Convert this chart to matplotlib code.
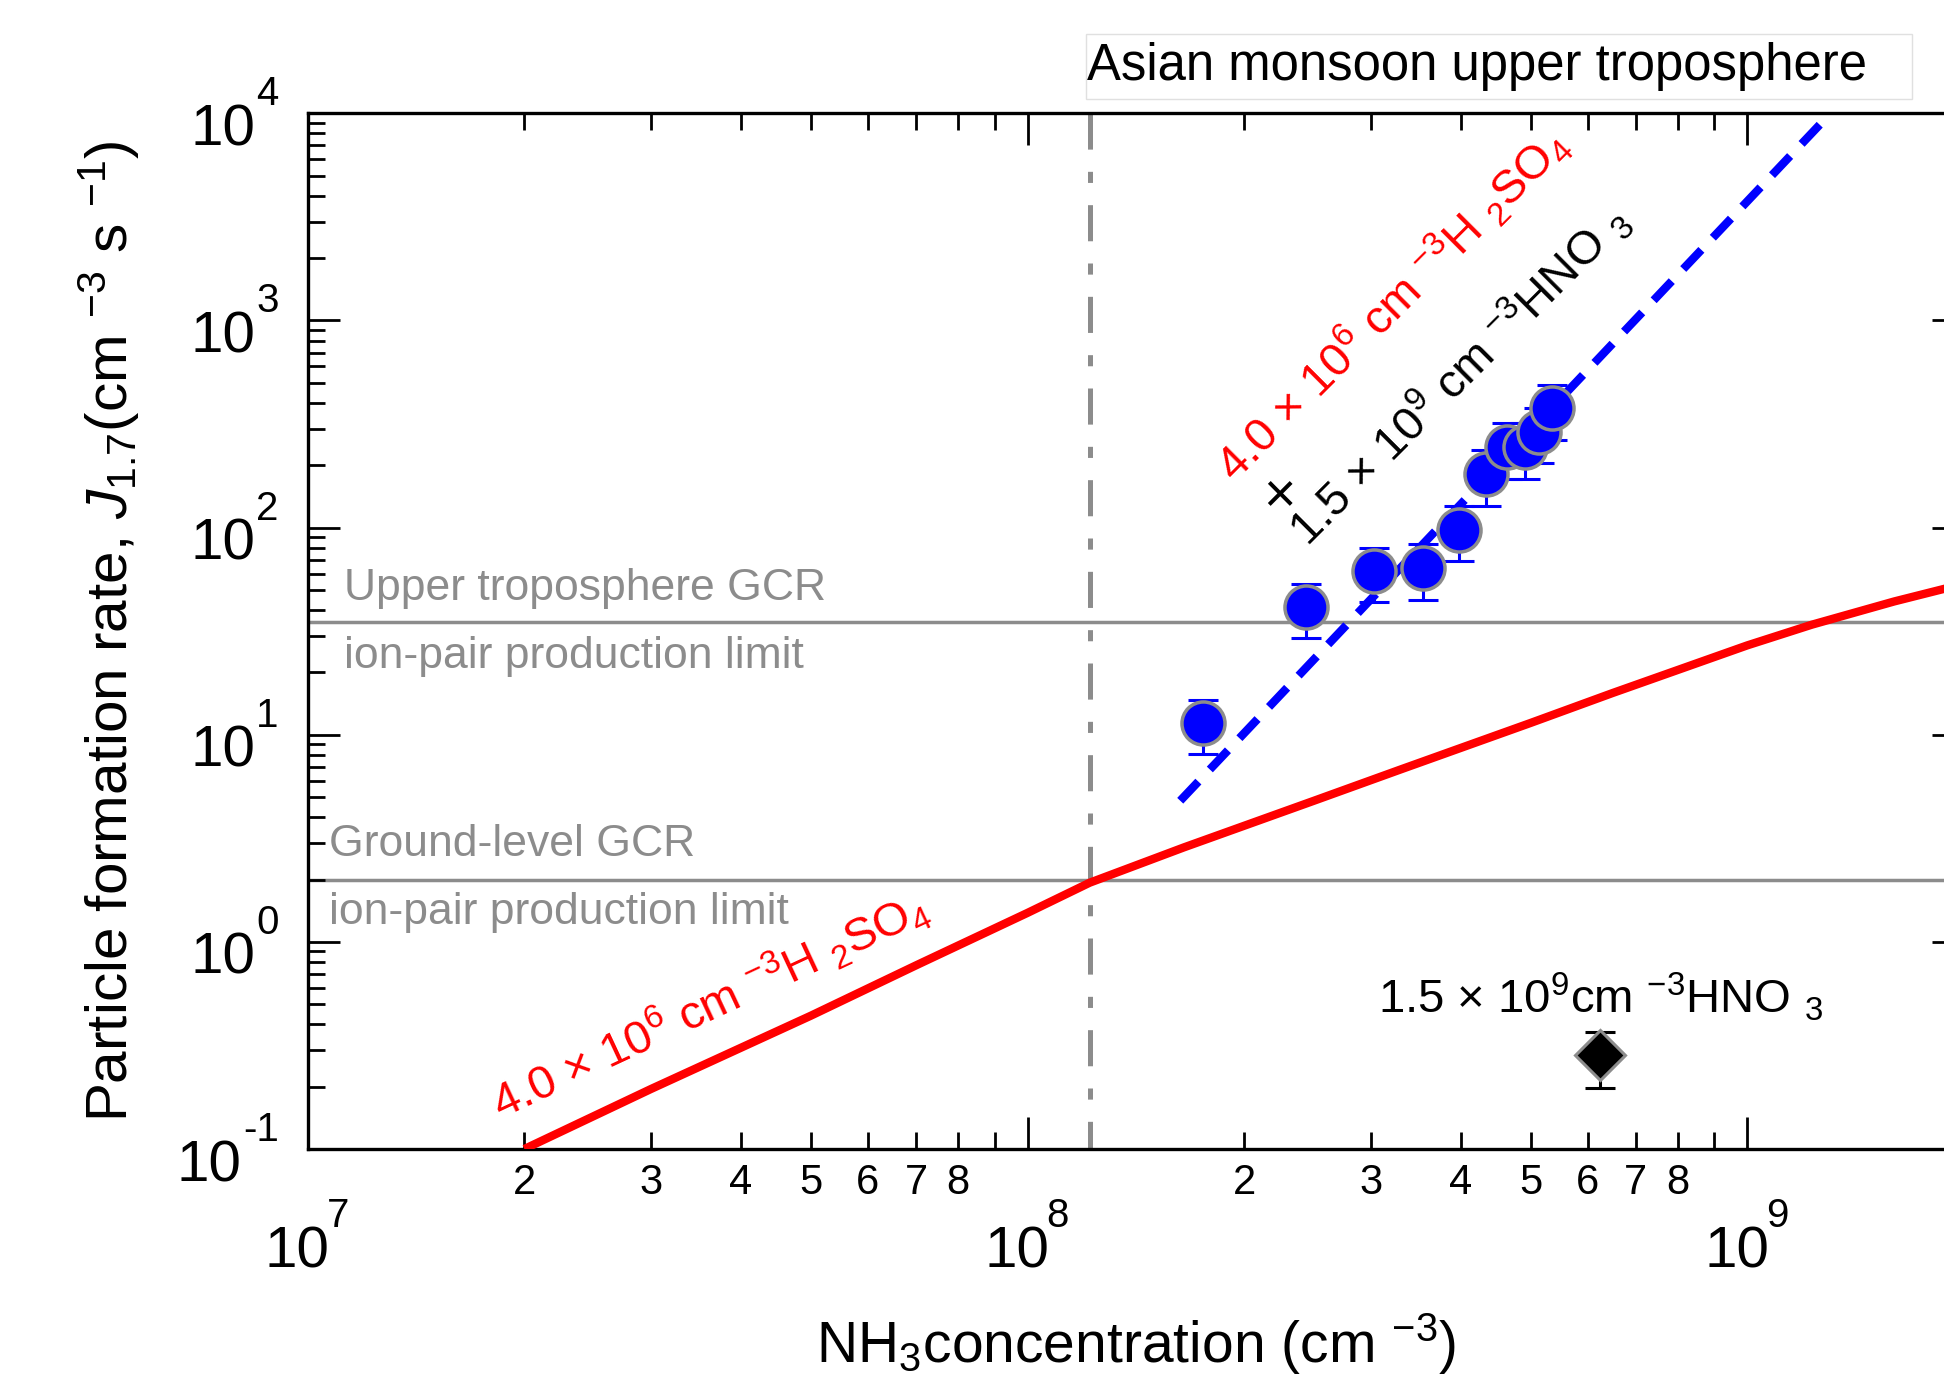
import matplotlib
matplotlib.use('Agg')
import matplotlib.pyplot as plt
import matplotlib.transforms as mtransforms
from matplotlib.ticker import FixedLocator, FixedFormatter, NullFormatter
from matplotlib.patches import Rectangle

plt.rcParams['font.family'] = ['Liberation Sans', 'DejaVu Sans']
plt.rcParams['mathtext.fontset'] = 'custom'
plt.rcParams['mathtext.rm'] = 'Liberation Sans'
plt.rcParams['mathtext.it'] = 'Liberation Sans:italic'
plt.rcParams['mathtext.bf'] = 'Liberation Sans:bold'
plt.rcParams['mathtext.sf'] = 'Liberation Sans'
plt.rcParams['mathtext.default'] = 'regular'
plt.rcParams['lines.scale_dashes'] = False

# ---------------- data ----------------
# CLOUD measurements, H2SO4 + HNO3 + NH3 (blue circles)
nh3_blue = [1.753e8, 2.44e8, 3.03e8, 3.54e8, 3.98e8, 4.34e8, 4.63e8, 4.91e8, 5.14e8, 5.36e8]
j_blue = [11.4, 41.3, 61.5, 64.1, 97.7, 182, 245, 245, 290, 376]
j_blue_err = [3.3, 12, 18, 19.5, 29, 55, 74, 74, 86, 112]

# HNO3 only (black diamond)
nh3_diamond = [6.25e8]
j_diamond = [0.283]
j_diamond_err = [0.085]

# H2SO4 + NH3 model curve (red)
nh3_red = [2.0e7, 3.0e7, 5.0e7, 7.0e7, 1.0e8, 1.22e8, 1.65e8, 2.5e8, 3.3e8,
           5.0e8, 6.5e8, 1.0e9, 1.23e9, 1.6e9, 2.0e9]
j_red = [0.100, 0.195, 0.44, 0.77, 1.38, 1.93, 2.86, 4.8, 6.8,
         11.4, 15.9, 27.0, 34.0, 44.0, 53.5]

# fit through blue points (blue dashed)
nh3_fit = [1.63e8, 1.305e9]
j_fit = [4.8, 1.0e4]

# reference levels
gcr_upper = 35.0
gcr_ground = 2.0
nh3_monsoon = 1.22e8

# ticks
x_major = [1e7, 1e8, 1e9]
x_major_exp = ['7', '8', '9']
x_minor = [m * 10.0 ** e for e in (7, 8) for m in range(2, 10)]
x_minor_labels = [str(m) if m <= 8 else '' for e in (7, 8) for m in range(2, 10)]
y_major = [1e-1, 1e0, 1e1, 1e2, 1e3, 1e4]
y_major_exp = ['-1', '0', '1', '2', '3', '4']
y_minor = [m * 10.0 ** e for e in (-1, 0, 1, 2, 3) for m in range(2, 10)]

# ---------------- figure ----------------
W, H = 1944, 1377
fig = plt.figure(figsize=(W / 100, H / 100), dpi=100)
ax = fig.add_axes([307.7 / W, 1 - 1149 / H, (1964 - 307.7) / W, (1149 - 113.3) / H])
ax.set_xscale('log')
ax.set_yscale('log')
ax.set_xlim(1e7, 2e9)
ax.set_ylim(0.1, 1e4)

gray = '#8c8c8c'
blue = '#0000ff'
red = '#ff0000'

# reference lines
ax.axhline(gcr_upper, color=gray, lw=2.5, zorder=1)
ax.axhline(gcr_ground, color=gray, lw=2.5, zorder=1)
ax.plot([nh3_monsoon, nh3_monsoon], [1e4, 0.1], color=gray, lw=3.6,
        dashes=(26, 16, 8, 16), solid_capstyle='butt', dash_capstyle='butt', zorder=1)

# red model curve
ax.plot(nh3_red, j_red, color=red, lw=6, solid_capstyle='butt', solid_joinstyle='round', zorder=3)

# blue dashed fit
ax.plot(nh3_fit, j_fit, color=blue, lw=6, dashes=(19, 12), dash_capstyle='butt', zorder=3)

# blue data points
ax.errorbar(nh3_blue, j_blue, yerr=j_blue_err, fmt='none', ecolor=blue,
            elinewidth=2.2, capsize=10.8, capthick=2.2, zorder=4)
ax.plot(nh3_blue, j_blue, 'o', ls='none', ms=31, mfc=blue, mec=gray, mew=2.5, zorder=5)

# black diamond
ax.errorbar(nh3_diamond, j_diamond, yerr=j_diamond_err, fmt='none', ecolor='black',
            elinewidth=2.2, capsize=10.8, capthick=2.2, zorder=4)
ax.plot(nh3_diamond, j_diamond, 'D', ls='none', ms=25.5, mfc='black', mec=gray, mew=2.2, zorder=5)

# ticks
ax.xaxis.set_major_locator(FixedLocator(x_major))
ax.xaxis.set_major_formatter(NullFormatter())
ax.xaxis.set_minor_locator(FixedLocator(x_minor))
ax.xaxis.set_minor_formatter(FixedFormatter(x_minor_labels))
ax.yaxis.set_major_locator(FixedLocator(y_major))
ax.yaxis.set_major_formatter(NullFormatter())
ax.yaxis.set_minor_locator(FixedLocator(y_minor))
ax.yaxis.set_minor_formatter(NullFormatter())

ax.tick_params(which='both', direction='in', top=True, right=True, width=2.0, color='black')
ax.tick_params(which='major', length=23)
ax.tick_params(which='minor', length=12)
ax.tick_params(axis='x', which='minor', labelsize=30, pad=10)
for s in ax.spines.values():
    s.set_linewidth(2.4)

# power-of-ten tick labels: base "10" plus raised exponent
base_fs, exp_fs = 42, 29
for v, e in zip(x_major, x_major_exp):
    tr = mtransforms.offset_copy(ax.get_xaxis_transform(), x=22, y=-118, units='dots')
    b = ax.text(v, 0, '10', transform=tr, ha='right', va='baseline', fontsize=base_fs)
    ax.annotate(e, xy=(1, 0), xycoords=(b, 'axes fraction'), xytext=(-3, -78),
                textcoords='offset pixels', ha='left', va='baseline', fontsize=exp_fs,
                annotation_clip=False)
for v, e in zip(y_major, y_major_exp):
    tr = mtransforms.offset_copy(ax.get_yaxis_transform(), x=-29, y=8, units='dots')
    ex = ax.text(0, v, e, transform=tr, ha='right', va='baseline', fontsize=exp_fs)
    ax.annotate('10', xy=(0, v), xycoords=(ex, 'data'), xytext=(-1, -32),
                textcoords='offset pixels', ha='right', va='baseline', fontsize=base_fs,
                annotation_clip=False)

# axis labels
ax.set_xlabel(r'NH$_{3}$concentration (cm $^{-3}$)', fontsize=41)
ax.xaxis.set_label_coords(0.5, -0.157)
ax.set_ylabel(r'Particle formation rate, $\mathit{J}_{1.7}$(cm $^{-3}$ s $^{-1}$)', fontsize=42)
ax.yaxis.set_label_coords(-0.100, 0.5)

# gray annotations (x in axes fraction, y in data)
bt = mtransforms.blended_transform_factory(ax.transAxes, ax.transData)
ax.text(0.0219, 44.6, 'Upper troposphere GCR', color=gray, fontsize=32, transform=bt, va='baseline')
ax.text(0.0219, 21.1, 'ion-pair production limit', color=gray, fontsize=32, transform=bt, va='baseline')
ax.text(0.0129, 2.583, 'Ground-level GCR', color=gray, fontsize=32, transform=bt, va='baseline')
ax.text(0.0129, 1.226, 'ion-pair production limit', color=gray, fontsize=32, transform=bt, va='baseline')

# red / black rotated labels
ax.text(1.856e7, 0.1385, r'4.0 × $10^{6}$ cm $^{-3}$H $_{2}$SO$_{4}$', color=red, fontsize=34,
        rotation=25, rotation_mode='anchor', ha='left', va='baseline')
ax.text(1.941e8, 161.8, r'4.0 × $10^{6}$ cm $^{-3}$H $_{2}$SO$_{4}$', color=red, fontsize=34,
        rotation=45, rotation_mode='anchor', ha='left', va='baseline')
ax.text(2.24e8, 140, '×', color='black', fontsize=40, ha='center', va='center')
ax.text(2.451e8, 79.4, r'1.5 × $10^{9}$ cm $^{-3}$HNO $_{3}$', color='black', fontsize=34,
        rotation=45, rotation_mode='anchor', ha='left', va='baseline')
ax.text(3.066e8, 0.4556, r'1.5 × $10^{9}$cm $^{-3}$HNO $_{3}$', color='black', fontsize=34,
        ha='left', va='baseline')

# title box
fig.patches.append(Rectangle((1086 / W, 1 - 99 / H), 826 / W, 65 / H, transform=fig.transFigure,
                             facecolor='white', edgecolor='#e0e0e0', lw=1.0, zorder=0))
fig.text(1087 / W, 1 - 80 / H, 'Asian monsoon upper troposphere', fontsize=36.6,
         ha='left', va='baseline', color='black')

fig.savefig('out.png', dpi=100)
